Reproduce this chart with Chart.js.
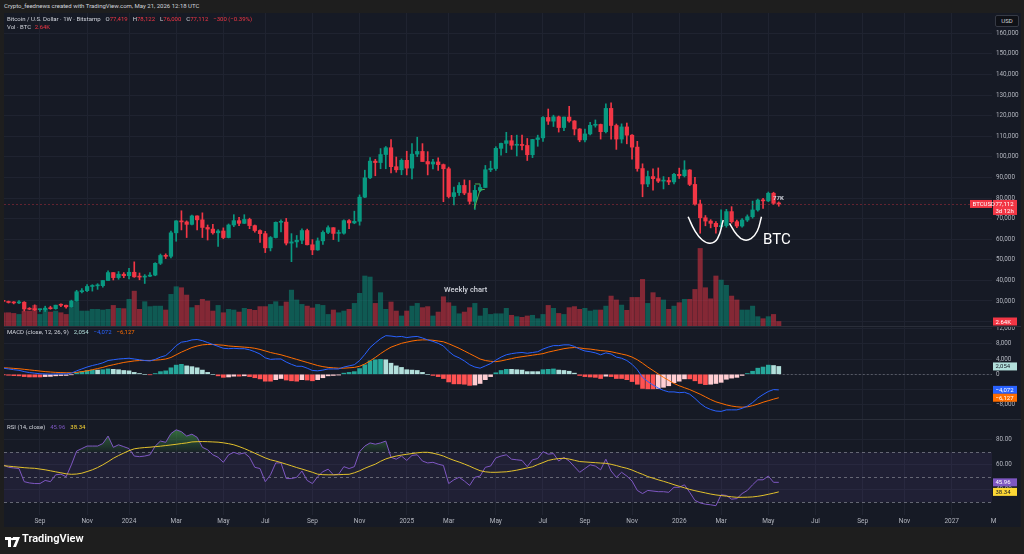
<!DOCTYPE html>
<html>
<head>
<meta charset="utf-8">
<title>BTCUSD 1W</title>
<script src="https://cdn.jsdelivr.net/npm/chart.js@4.4.1/dist/chart.umd.min.js"></script>
<style>
  body { margin:0; width:1024px; height:554px; background:#1e1e1e; overflow:hidden; position:relative;
         font-family: Roboto, "Noto Sans", sans-serif; }
  .abs { position:absolute; white-space:nowrap; }
  #pane { left:4px; top:13px; width:1017px; height:514px; background:#161a25; }
  canvas { position:absolute; left:4px; }
  .sep { left:4px; width:1017px; height:1px; background:#2a2e39; }
  .t6 { font-size:6px; color:#d1d4dc; line-height:8px; }
  .red { color:#f23645; }
  .gap { margin-left:5px; }
</style>
</head>
<body>
<div class="abs t6" style="left:4px;top:2px;">Crypto_feednews created with TradingView.com, May 21, 2026 12:18 UTC</div>
<div id="pane" class="abs"></div>

<canvas id="priceChart" width="1018" height="313" style="top:13px"></canvas>
<div class="abs sep" style="top:326px"></div>
<canvas id="macdChart" width="1018" height="92" style="top:327px"></canvas>
<div class="abs sep" style="top:419px"></div>
<canvas id="rsiChart" width="1018" height="107" style="top:420px"></canvas>

<!-- легенды -->
<div class="abs t6" style="left:7px;top:15px;">Bitcoin / U.S. Dollar · 1W · Bitstamp<span class="gap">O</span><span class="red">77,419</span><span class="gap">H</span><span class="red">78,122</span><span class="gap">L</span><span class="red">76,000</span><span class="gap">C</span><span class="red">77,112</span><span class="red gap">−300 (−0.39%)</span></div>
<div class="abs t6" style="left:7px;top:23px;">Vol · BTC <span class="red" style="margin-left:2px">2.64K</span></div>
<div class="abs t6" style="left:7px;top:328px;">MACD (close, 12, 26, 9)<span class="gap" style="color:#b2dfdb">2,054</span><span class="gap" style="color:#2962ff">−4,072</span><span class="gap" style="color:#ff6d00">−6,127</span></div>
<div class="abs t6" style="left:7px;top:423px;">RSI (14, close)<span class="gap" style="color:#7e57c2">45.96</span><span class="gap" style="color:#fdd835">38.34</span></div>

<div class="abs" style="left:995px;top:15px;width:22px;height:10px;background:#0f1117;border:1px solid #363a45;border-radius:2px;color:#d1d4dc;font-size:6px;line-height:10px;text-align:center;">USD</div>

<!-- надписи на графике -->
<div class="abs" style="left:444px;top:285px;font-size:7.5px;color:#d1d4dc;font-weight:500;">Weekly chart</div>
<div class="abs" style="left:763px;top:230px;font-size:15px;color:#ffffff;">BTC</div>
<div class="abs" style="left:773px;top:194px;font-size:6px;font-weight:700;color:#d1d4dc;">77K</div>

<!-- логотип -->
<div class="abs" style="left:5px;top:533px;">
  <svg width="15" height="12" viewBox="0 0 15 12"><path d="M0 1h6v10H3V4H0z M8 1h7l-4 10H8l3-7H8z" fill="#fff"/><circle cx="7.2" cy="3" r="1.3" fill="#fff"/></svg>
</div>
<div class="abs" style="left:22px;top:532px;font-size:11px;font-weight:600;color:#ffffff;">TradingView</div>

<script>
// Неделя 0 = неделя с 1 янв 2024, первая видимая свеча - неделя с 17 июл 2023
const firstWeek = -24;

// Свечи, тыс. USD
const opens = [
  30.24, 29.78, 29.28, 29.07, 29.41, 26.10, 26.00, 25.80, 25.84, 26.53,
  26.26, 27.97, 27.94, 27.16, 29.99, 34.50, 35.02, 37.06, 37.36, 37.45,
  39.95, 43.80, 41.35, 43.00, 42.27, 43.95, 41.73, 41.60, 42.04, 42.58,
  48.30, 52.10, 51.70, 63.10, 68.90, 68.40, 67.20, 71.30, 69.40, 65.70,
  64.90, 63.10, 64.00, 60.80, 66.90, 69.00, 67.70, 69.60, 66.60, 64.20,
  62.70, 55.80, 60.80, 68.20, 68.30, 58.10, 58.70, 59.50, 64.20, 57.30,
  54.80, 59.20, 63.30, 65.60, 62.80, 62.90, 69.00, 67.90, 68.70, 80.40,
  89.80, 97.90, 97.20, 101.10, 104.40, 95.20, 93.70, 98.30, 94.50, 101.30,
  102.60, 97.70, 96.50, 97.50, 96.20, 94.20, 80.70, 82.60, 86.10, 82.40,
  78.40, 83.70, 85.10, 93.70, 94.30, 104.10, 106.50, 107.80, 105.60, 105.60,
  105.50, 101.00, 108.40, 109.20, 119.10, 117.30, 119.40, 114.20, 119.30, 117.40,
  113.50, 108.20, 111.10, 115.30, 115.70, 112.20, 123.50, 115.20, 108.60, 114.50,
  110.50, 104.70, 94.30, 86.80, 90.40, 89.40, 88.20, 88.50, 87.80, 91.50,
  90.80, 93.60, 86.60, 77.10, 70.40, 68.80, 67.70, 66.10, 66.60, 73.40,
  68.50, 66.40, 69.30, 70.90, 74.20, 79.00, 78.60, 82.30, 77.419
];
const highs = [
  30.33, 29.99, 29.72, 30.25, 29.68, 26.80, 28.15, 26.10, 27.48, 27.47,
  28.00, 28.60, 27.99, 30.40, 35.20, 35.97, 37.98, 37.92, 38.40, 40.00,
  44.70, 43.80, 44.30, 43.80, 45.90, 49.00, 43.60, 42.80, 43.80, 48.60,
  52.80, 52.90, 64.00, 69.00, 73.80, 68.90, 71.70, 71.30, 72.80, 66.90,
  67.20, 64.70, 65.50, 67.40, 71.90, 70.60, 71.90, 70.20, 66.90, 64.50,
  63.80, 61.30, 68.40, 69.40, 70.10, 62.70, 61.80, 65.00, 64.90, 59.80,
  60.60, 64.10, 66.50, 65.60, 64.40, 69.40, 69.50, 73.60, 81.50, 93.50,
  99.60, 98.80, 104.00, 105.00, 108.30, 99.90, 99.00, 102.70, 106.40, 109.50,
  106.40, 102.50, 98.80, 99.50, 96.50, 95.00, 85.30, 87.50, 88.80, 88.50,
  86.10, 86.50, 95.80, 97.90, 104.90, 106.60, 111.90, 110.40, 110.50, 110.60,
  108.90, 108.50, 110.50, 119.50, 123.20, 120.20, 119.80, 119.30, 124.50, 117.60,
  113.70, 113.40, 116.70, 117.90, 115.90, 125.70, 126.20, 115.90, 116.00, 116.40,
  110.80, 107.50, 96.60, 93.10, 94.10, 94.60, 90.40, 90.00, 92.00, 94.50,
  98.10, 93.80, 90.00, 79.00, 71.50, 69.50, 68.50, 74.20, 74.50, 75.80,
  69.30, 70.00, 71.80, 78.50, 79.50, 79.80, 82.90, 82.80, 78.122
];
const lows = [
  29.55, 29.00, 28.60, 28.70, 25.16, 25.80, 25.35, 24.93, 24.90, 26.00,
  26.00, 27.20, 26.53, 26.95, 29.90, 33.90, 34.50, 34.80, 35.65, 36.70,
  39.95, 40.20, 40.55, 41.30, 40.75, 41.50, 40.30, 38.50, 41.85, 42.25,
  47.70, 50.60, 50.90, 59.00, 64.50, 60.80, 66.90, 64.50, 60.80, 59.60,
  62.40, 56.50, 60.20, 60.60, 66.10, 66.60, 67.60, 65.10, 63.40, 58.40,
  53.50, 54.30, 60.60, 63.50, 57.20, 49.10, 56.10, 57.80, 57.20, 52.50,
  54.60, 57.50, 62.70, 59.80, 58.90, 62.50, 65.10, 67.50, 66.80, 80.20,
  89.40, 90.80, 94.20, 94.20, 92.20, 92.50, 91.30, 91.20, 89.30, 100.10,
  97.80, 91.20, 94.10, 93.40, 78.20, 80.00, 76.60, 81.30, 81.60, 77.10,
  74.40, 83.10, 85.10, 92.80, 93.40, 100.80, 102.00, 103.60, 100.40, 103.40,
  98.20, 99.60, 105.10, 107.50, 115.70, 114.70, 112.00, 112.70, 116.80, 110.60,
  107.30, 107.20, 110.60, 114.40, 108.60, 111.60, 108.50, 103.60, 106.70, 106.30,
  98.90, 93.00, 80.60, 85.50, 83.80, 87.50, 84.40, 86.50, 86.80, 89.50,
  90.20, 86.00, 76.50, 62.90, 66.50, 65.50, 62.90, 65.50, 65.80, 67.80,
  65.60, 65.90, 68.60, 70.20, 73.60, 75.00, 78.20, 76.90, 76.00
];
const closes = [
  29.78, 29.28, 29.07, 29.41, 26.10, 26.00, 25.80, 25.84, 26.53, 26.26,
  27.97, 27.94, 27.16, 29.99, 34.50, 35.02, 37.06, 37.36, 37.45, 39.95,
  43.80, 41.35, 43.00, 42.27, 43.95, 41.73, 41.60, 42.04, 42.58, 48.30,
  52.10, 51.70, 63.10, 68.90, 68.40, 67.20, 71.30, 69.40, 65.70, 64.90,
  63.10, 64.00, 60.80, 66.90, 69.00, 67.70, 69.60, 66.60, 64.20, 62.70,
  55.80, 60.80, 68.20, 68.30, 58.10, 58.70, 59.50, 64.20, 57.30, 54.80,
  59.20, 63.30, 65.60, 62.80, 62.90, 69.00, 67.90, 68.70, 80.40, 89.80,
  97.90, 97.20, 101.10, 104.40, 95.20, 93.70, 98.30, 94.50, 101.30, 102.60,
  97.70, 96.50, 97.50, 96.20, 94.20, 80.70, 82.60, 86.10, 82.40, 78.40,
  83.70, 85.10, 93.70, 94.30, 104.10, 106.50, 107.80, 105.60, 105.60, 105.50,
  101.00, 108.40, 109.20, 119.10, 117.30, 119.40, 114.20, 119.30, 117.40, 113.50,
  108.20, 111.10, 115.30, 115.70, 112.20, 123.50, 115.20, 108.60, 114.50, 110.50,
  104.70, 94.30, 86.80, 90.40, 89.40, 88.20, 88.50, 87.80, 91.50, 90.80,
  93.60, 86.60, 77.10, 70.40, 68.80, 67.70, 66.10, 66.60, 73.40, 68.50,
  66.40, 69.30, 70.90, 74.20, 79.00, 78.60, 82.30, 77.419, 77.112
];

// Объём, тыс. BTC
const volumes = [
  7.8, 7.8, 7.4, 6.8, 8.8, 8.8, 12.1, 6.8, 9.8, 8.2,
  8.8, 7.8, 6.8, 10.8, 14.1, 8.8, 8.8, 9.8, 9.8, 9.4,
  9.8, 12.1, 10.4, 10.2, 15.7, 20.5, 9.8, 14.3, 11.4, 11.7,
  11.7, 9.4, 18.6, 23.1, 22.5, 18.2, 10.8, 12.1, 15.7, 14.7,
  8.8, 12.1, 7.8, 9.8, 9.4, 8.2, 10.4, 9.8, 9.2, 11.4,
  11.4, 12.7, 14.3, 11.7, 14.1, 21.1, 15.3, 12.7, 11.7, 10.6,
  12.7, 12.1, 6.8, 9.4, 7.8, 8.8, 9.8, 13.3, 19.2, 29.4,
  28.8, 13.3, 19.6, 9.8, 14.1, 8.8, 5.9, 8.8, 11.7, 13.3,
  10.8, 11.4, 5.9, 8.2, 17.2, 13.7, 11.7, 7.2, 8.2, 10.8,
  13.3, 5.9, 10.4, 6.8, 7.2, 7.2, 10.4, 6.3, 5.5, 5.1,
  5.9, 6.3, 4.3, 6.8, 12.1, 10.4, 7.4, 6.8, 10.8, 11.4,
  9.8, 10.4, 8.8, 9.4, 9.4, 11.7, 17.6, 15.3, 12.3, 9.2,
  16.8, 16.8, 27.4, 13.3, 19.6, 16.8, 15.3, 9.8, 11.7, 13.7,
  15.7, 15.7, 21.5, 45.6, 22.5, 16.0, 29.4, 27.0, 23.9, 17.6,
  15.3, 9.4, 9.4, 11.7, 5.5, 4.3, 5.5, 6.8, 2.64
];

// MACD (12, 26, 9), тыс.
const macdLine = [
  1.6, 1.4, 1.2, 1.05, 0.7, 0.45, 0.3, 0.15, 0.1, 0.05,
  0.1, 0.12, 0.1, 0.3, 0.9, 1.4, 1.9, 2.3, 2.6, 3.0,
  3.6, 3.8, 4.0, 4.1, 4.2, 4.0, 3.8, 3.6, 3.5, 3.9,
  4.5, 4.9, 6.1, 7.5, 8.4, 8.6, 9.0, 9.1, 8.8, 8.3,
  7.8, 7.3, 6.8, 6.7, 6.8, 6.7, 6.7, 6.4, 5.9, 5.3,
  4.3, 3.9, 4.0, 4.0, 3.2, 2.6, 2.1, 2.1, 1.6, 1.0,
  0.9, 1.1, 1.4, 1.4, 1.4, 1.9, 2.2, 2.5, 3.6, 5.2,
  7.0, 8.2, 9.3, 10.1, 10.0, 9.8, 9.9, 9.6, 9.8, 9.9,
  9.5, 9.0, 8.6, 8.1, 7.4, 6.0, 4.9, 4.3, 3.5, 2.5,
  1.9, 1.6, 2.2, 2.8, 3.7, 4.5, 5.1, 5.4, 5.6, 5.7,
  5.5, 5.7, 5.9, 6.6, 7.1, 7.5, 7.5, 7.7, 7.7, 7.3,
  6.6, 6.1, 5.9, 5.6, 5.1, 5.6, 5.3, 4.5, 4.2, 3.6,
  2.6, 1.2, -0.8, -1.9, -2.8, -3.6, -4.2, -4.6, -4.6, -4.8,
  -4.7, -5.2, -6.3, -7.6, -8.6, -9.2, -9.6, -9.7, -9.3, -9.3,
  -9.3, -8.9, -8.3, -7.4, -6.2, -5.3, -4.5, -4.0, -4.072
];
const signalLine = [
  1.7, 1.65, 1.55, 1.45, 1.3, 1.15, 1.0, 0.85, 0.7, 0.6,
  0.5, 0.45, 0.4, 0.4, 0.5, 0.7, 0.9, 1.2, 1.5, 1.8,
  2.2, 2.5, 2.8, 3.1, 3.3, 3.5, 3.6, 3.6, 3.6, 3.7,
  3.8, 4.0, 4.4, 5.1, 5.8, 6.4, 7.0, 7.4, 7.7, 7.8,
  7.8, 7.7, 7.6, 7.4, 7.3, 7.2, 7.1, 7.0, 6.8, 6.5,
  6.1, 5.7, 5.4, 5.1, 4.7, 4.3, 3.9, 3.5, 3.1, 2.7,
  2.3, 2.0, 1.8, 1.7, 1.6, 1.6, 1.7, 1.8, 2.1, 2.7,
  3.5, 4.4, 5.4, 6.3, 7.1, 7.6, 8.1, 8.4, 8.7, 8.9,
  9.0, 9.0, 8.9, 8.7, 8.5, 8.0, 7.4, 6.8, 6.1, 5.4,
  4.7, 4.0, 3.6, 3.4, 3.3, 3.5, 3.8, 4.1, 4.4, 4.6,
  4.8, 5.0, 5.2, 5.4, 5.8, 6.1, 6.4, 6.7, 6.9, 7.0,
  6.9, 6.7, 6.6, 6.4, 6.2, 6.1, 5.9, 5.6, 5.3, 5.0,
  4.5, 3.8, 2.9, 1.9, 1.0, 0.1, -0.8, -1.6, -2.4, -3.0,
  -3.5, -4.0, -4.6, -5.2, -5.9, -6.6, -7.2, -7.6, -8.0, -8.3,
  -8.5, -8.6, -8.5, -8.2, -7.8, -7.3, -6.9, -6.5, -6.127
];
const macdHist = [
  -0.1, -0.25, -0.35, -0.4, -0.6, -0.7, -0.7, -0.7, -0.6, -0.55,
  -0.4, -0.33, -0.3, -0.1, 0.4, 0.7, 1.0, 1.1, 1.1, 1.2,
  1.4, 1.3, 1.2, 1.0, 0.9, 0.5, 0.2, 0.0, -0.1, 0.2,
  0.7, 0.9, 1.7, 2.4, 2.6, 2.2, 2.0, 1.7, 1.1, 0.5,
  0.0, -0.4, -0.8, -0.7, -0.5, -0.5, -0.4, -0.6, -0.9, -1.2,
  -1.8, -1.8, -1.4, -1.1, -1.5, -1.7, -1.8, -1.4, -1.5, -1.7,
  -1.4, -0.9, -0.4, -0.3, -0.2, 0.3, 0.5, 0.7, 1.5, 2.5,
  3.5, 3.8, 3.9, 3.8, 2.9, 2.2, 1.8, 1.2, 1.1, 1.0,
  0.5, 0.0, -0.3, -0.6, -1.1, -2.0, -2.5, -2.5, -2.6, -2.9,
  -2.8, -2.4, -1.4, -0.6, 0.4, 1.0, 1.3, 1.3, 1.2, 1.1,
  0.7, 0.7, 0.7, 1.2, 1.3, 1.4, 1.1, 1.0, 0.8, 0.3,
  -0.3, -0.6, -0.7, -0.8, -1.1, -0.5, -0.6, -1.1, -1.1, -1.4,
  -1.9, -2.6, -3.7, -3.8, -3.8, -3.7, -3.4, -3.0, -2.2, -1.8,
  -1.2, -1.2, -1.7, -2.4, -2.7, -2.6, -2.4, -2.1, -1.3, -1.0,
  -0.8, -0.3, 0.2, 0.8, 1.6, 1.9, 2.4, 2.3, 2.054
];

// RSI (14) и его скользящая средняя
const rsiLine = [
  60, 58, 57.5, 57, 46.5, 45.5, 45, 45, 47.5, 46.5,
  52, 52.5, 50.5, 60, 71, 73, 75, 75, 75, 77,
  83, 74, 76, 74.5, 73, 67, 66.5, 67, 68, 75,
  79, 78, 85, 88, 86.5, 83, 84.5, 82, 74, 72,
  68, 66, 62, 68, 70, 68.5, 69.5, 66, 58, 57,
  46.5, 52, 61.5, 61.5, 49, 49, 50, 55, 47.5, 45,
  50.5, 54.5, 56.5, 52, 52.5, 58.5, 57, 58.5, 70.5, 75,
  77.5, 76.5, 77.5, 79, 66, 64.5, 67, 63.5, 67.5, 68,
  63, 61.5, 62, 60.5, 59.5, 45, 48, 50, 47, 43.5,
  50, 51, 58, 59, 65.5, 67, 68, 64.5, 64, 63.5,
  58.5, 64, 65, 70.5, 68.5, 69, 63, 66, 63, 58.5,
  54, 57, 60, 59, 56, 64.5, 55, 50, 54, 51,
  47, 39.5, 37, 39.5, 39, 38.5, 38.5, 38, 42, 42,
  44, 38, 31.5, 29.5, 28.5, 28, 27.3, 36, 35.5, 32.5,
  33, 37, 39.5, 44, 48, 48, 51, 46, 45.96
];
const rsiMa = [
  59.3, 58.9, 58.5, 58.1, 57.7, 57.4, 57.2, 56.6, 56, 55.2,
  54.4, 53.6, 52.8, 52.4, 52.6, 53.3, 54.6, 56, 57.8, 60,
  62.5, 65.2, 67.4, 69.4, 71.3, 72.8, 73.4, 73.8, 74.1, 74.5,
  74.9, 75.4, 75.9, 76.4, 77, 77.5, 78.3, 78.5, 78.6, 78.5,
  78.3, 78.1, 77.6, 76.9, 76, 74.6, 73, 71.2, 69.3, 67.4,
  65.5, 64, 63, 61.8, 60.5, 59.2, 57.8, 56.6, 55.3, 54,
  52.5, 52.1, 52, 52, 52.1, 52.3, 52.4, 53.6, 55.2, 57.2,
  58.9, 60.5, 62.8, 64.7, 66, 67, 67.8, 68.4, 69, 69.6,
  70, 70, 69.3, 68.3, 67, 65.2, 63.6, 62.2, 60.6, 58.9,
  57, 55.3, 54.4, 54, 54, 54.2, 54.4, 55, 55.7, 56.6,
  57.5, 58.4, 60.2, 61.8, 63.5, 64.4, 65, 65.2, 64.6, 63.6,
  62.6, 62.3, 62, 61.7, 61.4, 61.2, 60.4, 59.4, 58.2, 57.2,
  55.8, 54, 52.4, 50.6, 49.3, 48, 46.8, 45.5, 44.1, 42.8,
  41.6, 40.3, 39.3, 38.4, 37.5, 36.6, 35.9, 35.4, 34.9, 34.4,
  34, 34, 34.1, 34.3, 34.8, 35.5, 36.4, 37.3, 38.34
];

// Подписи оси времени (номер недели -> подпись)
const tickWeeks  = [-17, -8, 0, 9, 18, 26, 35, 44, 53, 61, 70, 79, 87, 96, 105, 113, 122, 131, 140, 148, 157, 165];
const tickLabels = ['Sep', 'Nov', '2024', 'Mar', 'May', 'Jul', 'Sep', 'Nov', '2025', 'Mar', 'May', 'Jul',
                    'Sep', 'Nov', '2026', 'Mar', 'May', 'Jul', 'Sep', 'Nov', '2027', 'M'];
const priceTicks = [20, 30, 40, 50, 60, 70, 80, 90, 100, 110, 120, 130, 140, 150, 160];
const macdTicks  = [-8, -4, 0, 4, 8, 12];
const rsiTicks   = [40, 60, 80];
const rsiBands   = [70, 50, 30];

// Рисунки на графике (неделя, тыс. USD)
const bottomArc1 = [[106.7, 70.9], [108.0, 64.0], [109.4, 59.6], [110.9, 58.0], [112.3, 60.3], [113.4, 69.3]];
const bottomArc2 = [[114.6, 67.7], [115.9, 62.5], [117.3, 59.7], [118.7, 60.3], [119.9, 64.0], [120.7, 70.9]];
const greenMark  = [[66.0, 86.8], [67.0, 86.8], [67.0, null], [65.9, 75.0], [67.0, 83.9], [67.9, 84.2]];

const xMin = -23.86, xMax = 164.69;
const upColor = '#089981', downColor = '#f23645';
const gridColor = '#1f2330';
const axisText = '#b2b5be';

Chart.defaults.font.family = 'Roboto, "Noto Sans", sans-serif';
Chart.defaults.animation = false;

const weeks = closes.map((_, i) => firstWeek + i);
const isUp = closes.map((c, i) => c >= opens[i]);
const last = closes.length - 1;

function fmt(v, digits = 0) {
    const s = Math.abs(v).toLocaleString('en-US', {minimumFractionDigits: digits, maximumFractionDigits: digits});
    return (v < 0 ? '−' : '') + s;
}

function toPoints(arr) {
    return arr.map(p => ({x: p[0], y: p[1]}));
}

// Общая ось времени
function timeAxis(showLabels) {
    return {
        type: 'linear',
        min: xMin,
        max: xMax,
        offset: false,
        afterBuildTicks: s => { s.ticks = tickWeeks.map(v => ({value: v})); },
        afterFit: s => {
            s.height = showLabels ? 12 : 0;
            s.paddingLeft = 0;
            s.paddingRight = 0;
        },
        ticks: {
            display: showLabels,
            color: axisText,
            font: {size: 6.5},
            padding: 2,
            maxRotation: 0,
            autoSkip: false,
            callback: v => tickLabels[tickWeeks.indexOf(v)] || ''
        },
        grid: {
            offset: false,
            drawTicks: false,
            color: c => (c.tick && c.tick.value > xMax) ? 'rgba(0,0,0,0)' : gridColor
        },
        border: {display: false}
    };
}

function valueAxis(min, max, ticks, label) {
    return {
        position: 'right',
        min: min,
        max: max,
        afterBuildTicks: s => { s.ticks = ticks.map(v => ({value: v})); },
        afterFit: s => { s.width = 30; s.paddingTop = 0; s.paddingBottom = 0; },
        ticks: {color: axisText, font: {size: 6.3}, padding: 4, callback: label},
        grid: {color: gridColor, drawTicks: false},
        border: {display: false}
    };
}

// Метки справа на шкале
const tagPlugin = {
    id: 'tags',
    afterDatasetsDraw(chart, args, opts) {
        const ctx = chart.ctx;
        const area = chart.chartArea;
        (opts.lines || []).forEach(l => {
            const y = Math.round(chart.scales[l.axis].getPixelForValue(l.value)) + 0.5;
            ctx.save();
            ctx.strokeStyle = l.color;
            ctx.lineWidth = 1;
            ctx.setLineDash(l.dash);
            ctx.beginPath();
            ctx.moveTo(l.from !== undefined ? chart.scales.x.getPixelForValue(l.from) : area.left, y);
            ctx.lineTo(area.right, y);
            ctx.stroke();
            ctx.restore();
        });
    },
    afterDraw(chart, args, opts) {
        const ctx = chart.ctx;
        const area = chart.chartArea;
        (opts.items || []).forEach(t => {
            const y = chart.scales[t.axis].getPixelForValue(t.value);
            const h = t.sub ? 15 : 8;
            const x = t.left ? t.left : area.right + 1;
            const w = t.width || 24;
            ctx.fillStyle = t.bg;
            ctx.fillRect(x, y - 4, w, h);
            ctx.fillStyle = t.fg;
            ctx.font = '6px Roboto, "Noto Sans", sans-serif';
            ctx.textBaseline = 'middle';
            ctx.textAlign = 'left';
            ctx.fillText(t.text, x + 2.5, y + 0.5);
            if (t.sub) ctx.fillText(t.sub, x + 2.5, y + 7.5);
        });
    }
};

// Полоса 30-70 и пунктиры RSI
const bandPlugin = {
    id: 'rsiBand',
    beforeDatasetsDraw(chart) {
        if (chart.canvas.id !== 'rsiChart') return;
        const ctx = chart.ctx;
        const area = chart.chartArea;
        const y = chart.scales.y;
        const top = y.getPixelForValue(rsiBands[0]);
        const bottom = y.getPixelForValue(rsiBands[2]);
        ctx.save();
        ctx.fillStyle = 'rgba(126, 87, 194, 0.1)';
        ctx.fillRect(area.left, top, area.right - area.left, bottom - top);
        ctx.strokeStyle = 'rgba(120, 123, 134, 0.8)';
        ctx.setLineDash([3, 3]);
        ctx.lineWidth = 1;
        rsiBands.forEach(v => {
            const py = Math.round(y.getPixelForValue(v)) + 0.5;
            ctx.beginPath();
            ctx.moveTo(area.left, py);
            ctx.lineTo(area.right, py);
            ctx.stroke();
        });
        ctx.restore();
    }
};

Chart.register(tagPlugin, bandPlugin);

// График цены и объёма
function initPriceChart() {
    const ctx = document.getElementById('priceChart');
    new Chart(ctx, {
        type: 'bar',
        data: {
            datasets: [
                {
                    type: 'line',
                    data: toPoints(bottomArc1),
                    borderColor: '#ffffff',
                    borderWidth: 1.5,
                    pointRadius: 0,
                    tension: 0.45,
                    order: 0
                },
                {
                    type: 'line',
                    data: toPoints(bottomArc2),
                    borderColor: '#ffffff',
                    borderWidth: 1.5,
                    pointRadius: 0,
                    tension: 0.45,
                    order: 0
                },
                {
                    type: 'line',
                    data: toPoints(greenMark),
                    borderColor: '#4caf50',
                    borderWidth: 1,
                    pointRadius: 0,
                    spanGaps: false,
                    order: 0
                },
                {
                    data: weeks.map((w, i) => ({x: w, y: [opens[i], closes[i]]})),
                    backgroundColor: isUp.map(u => u ? upColor : downColor),
                    barThickness: 3.6,
                    minBarLength: 1,
                    grouped: false,
                    order: 2
                },
                {
                    data: weeks.map((w, i) => ({x: w, y: [lows[i], highs[i]]})),
                    backgroundColor: isUp.map(u => u ? upColor : downColor),
                    barThickness: 1,
                    grouped: false,
                    order: 3
                },
                {
                    data: weeks.map((w, i) => ({x: w, y: volumes[i]})),
                    backgroundColor: isUp.map(u => u ? 'rgba(8,153,129,0.5)' : 'rgba(242,54,69,0.5)'),
                    barThickness: 4.4,
                    grouped: false,
                    yAxisID: 'yv',
                    order: 5
                }
            ]
        },
        options: {
            responsive: false,
            events: [],
            layout: {padding: 0},
            plugins: {
                legend: {display: false},
                tooltip: {enabled: false},
                tags: {
                    lines: [{axis: 'y', value: closes[last], color: 'rgba(242,54,69,0.35)', dash: [2, 2]}],
                    items: [
                        {axis: 'y', value: closes[last], text: fmt(closes[last] * 1000), sub: '3d 12h', bg: '#f23645', fg: '#ffffff'},
                        {axis: 'y', value: closes[last], text: 'BTCUSD', bg: '#f23645', fg: '#ffffff', left: 966, width: 22},
                        {axis: 'yv', value: volumes[last], text: fmt(volumes[last], 2) + 'K', bg: '#f23645', fg: '#ffffff'}
                    ]
                }
            },
            scales: {
                x: timeAxis(false),
                y: valueAxis(17.864, 169.806, priceTicks, v => fmt(v * 1000)),
                yv: {display: false, min: 0, max: 184}
            }
        }
    });
}

// MACD
function initMacdChart() {
    const ctx = document.getElementById('macdChart');
    const histColors = macdHist.map((h, i) => {
        const prev = i > 0 ? macdHist[i - 1] : h;
        if (h >= 0) return h > prev ? '#26a69a' : '#b2dfdb';
        return h > prev ? '#ffcdd2' : '#ff5252';
    });
    new Chart(ctx, {
        type: 'bar',
        data: {
            datasets: [
                {
                    type: 'line',
                    data: weeks.map((w, i) => ({x: w, y: macdLine[i]})),
                    borderColor: '#2962ff',
                    borderWidth: 1,
                    pointRadius: 0,
                    order: 0
                },
                {
                    type: 'line',
                    data: weeks.map((w, i) => ({x: w, y: signalLine[i]})),
                    borderColor: '#ff6d00',
                    borderWidth: 1,
                    pointRadius: 0,
                    order: 1
                },
                {
                    data: weeks.map((w, i) => ({x: w, y: macdHist[i]})),
                    backgroundColor: histColors,
                    barThickness: 4,
                    grouped: false,
                    order: 2
                }
            ]
        },
        options: {
            responsive: false,
            events: [],
            layout: {padding: 0},
            plugins: {
                legend: {display: false},
                tooltip: {enabled: false},
                tags: {
                    lines: [{axis: 'y', value: 0, color: 'rgba(120,123,134,0.6)', dash: [2, 2], from: weeks[last]}],
                    items: [
                        {axis: 'y', value: macdHist[last], text: fmt(macdHist[last] * 1000), bg: '#b2dfdb', fg: '#131722'},
                        {axis: 'y', value: macdLine[last], text: fmt(macdLine[last] * 1000), bg: '#2962ff', fg: '#ffffff'},
                        {axis: 'y', value: signalLine[last], text: fmt(signalLine[last] * 1000), bg: '#ff6d00', fg: '#ffffff'}
                    ]
                }
            },
            scales: {
                x: timeAxis(false),
                y: valueAxis(-11.686, 12.366, macdTicks, v => fmt(v * 1000))
            }
        }
    });
}

// RSI
function initRsiChart() {
    const ctx = document.getElementById('rsiChart');
    new Chart(ctx, {
        type: 'line',
        data: {
            datasets: [
                {
                    data: weeks.map((w, i) => ({x: w, y: rsiLine[i]})),
                    borderColor: '#7e57c2',
                    borderWidth: 1,
                    pointRadius: 0,
                    fill: {target: {value: 70}, below: 'rgba(0,0,0,0)'},
                    backgroundColor: c => {
                        const area = c.chart.chartArea;
                        if (!area) return 'rgba(76,175,80,0.3)';
                        const y = c.chart.scales.y;
                        const g = c.chart.ctx.createLinearGradient(0, y.getPixelForValue(95), 0, y.getPixelForValue(70));
                        g.addColorStop(0, 'rgba(76,175,80,0.75)');
                        g.addColorStop(1, 'rgba(76,175,80,0.05)');
                        return g;
                    },
                    order: 1
                },
                {
                    data: weeks.map((w, i) => ({x: w, y: rsiMa[i]})),
                    borderColor: '#e2c12c',
                    borderWidth: 1,
                    pointRadius: 0,
                    order: 0
                }
            ]
        },
        options: {
            responsive: false,
            events: [],
            layout: {padding: 0},
            plugins: {
                legend: {display: false},
                tooltip: {enabled: false},
                tags: {
                    items: [
                        {axis: 'y', value: rsiLine[last], text: rsiLine[last].toFixed(2), bg: '#7e57c2', fg: '#ffffff'},
                        {axis: 'y', value: rsiMa[last], text: rsiMa[last].toFixed(2), bg: '#fdd835', fg: '#131722'}
                    ]
                }
            },
            scales: {
                x: timeAxis(true),
                y: valueAxis(19.84, 95.84, rsiTicks, v => v.toFixed(2))
            }
        }
    });
}

document.addEventListener('DOMContentLoaded', function() {
    try {
        initPriceChart();
        initMacdChart();
        initRsiChart();
    } catch (error) {
        console.error('Ошибка при создании графиков:', error);
    }
});
</script>
</body>
</html>
